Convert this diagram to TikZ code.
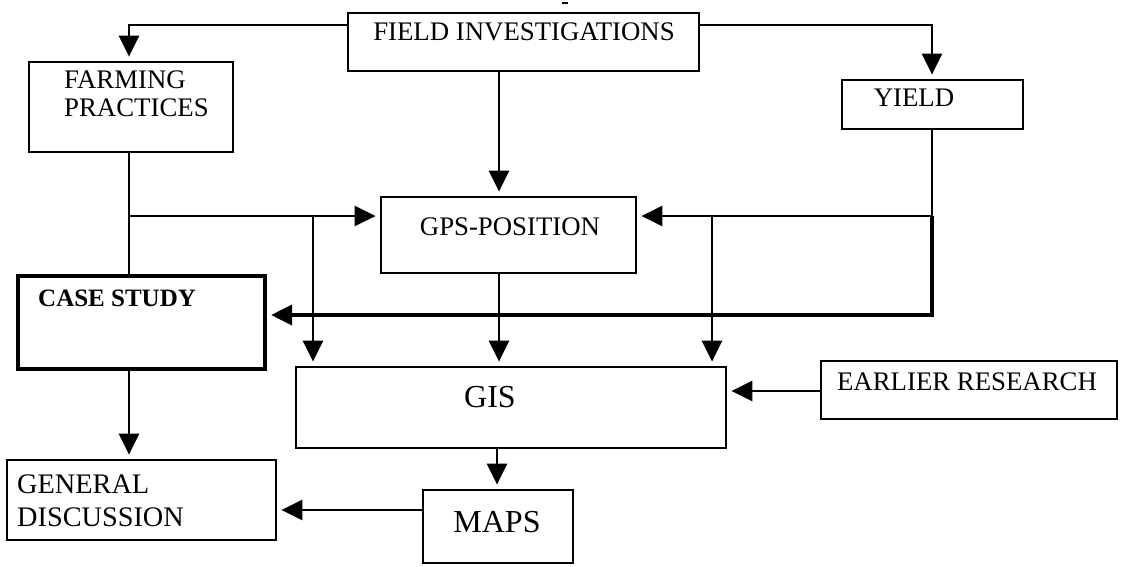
\documentclass[tikz,border=0pt]{standalone}
\usepackage{fontspec}
\setmainfont{Liberation Serif}
\usetikzlibrary{arrows.meta}
\tikzset{
  box/.style={draw, line width=2.8pt, inner sep=0pt, rectangle},
  thickbox/.style={draw, line width=4.2pt, inner sep=0pt, rectangle},
  txt/.style={inner sep=0pt, font=\fontsize{26.8}{28}\selectfont},
  bigtxt/.style={inner sep=0pt, font=\fontsize{32}{34}\selectfont},
  gdtxt/.style={inner sep=0pt, font=\fontsize{28.3}{30}\selectfont},
  cstxt/.style={inner sep=0pt, font=\fontsize{25}{27}\selectfont\bfseries},
  ln/.style={line width=2.6pt},
  arr/.style={line width=2.6pt, -{Triangle[length=21pt,width=20pt]}, shorten >=4pt},
  thickarr/.style={line width=3.8pt, -{Triangle[length=21pt,width=20pt]}, shorten >=4pt}
}
\begin{document}
\begin{tikzpicture}[x=1pt,y=-1pt]
\useasboundingbox (0,0) rectangle (1121,566);
% boxes
\node[box, minimum width=351pt, minimum height=58pt] (fi) at (523.5,42) {};
\node[box, minimum width=204pt, minimum height=90pt] (fp) at (131,107) {};
\node[box, minimum width=181pt, minimum height=49pt] (yi) at (932.5,104.5) {};
\node[box, minimum width=255pt, minimum height=76pt] (gps) at (508.5,235) {};
\node[thickbox, minimum width=247pt, minimum height=93pt] (cs) at (141.5,322.5) {};
\node[box, minimum width=430pt, minimum height=81pt] (gis) at (511,407.5) {};
\node[box, minimum width=296pt, minimum height=58pt] (er) at (969,390) {};
\node[box, minimum width=269pt, minimum height=80pt] (gd) at (141.5,500) {};
\node[box, minimum width=150pt, minimum height=73pt] (maps) at (498,526.5) {};
% texts
\node[txt, anchor=base] (fiT) at (524,40.9) {FIELD INVESTIGATIONS};
\node[txt, anchor=base west] (fpT1) at (64,88.9) {FARMING};
\node[txt, anchor=base west] (fpT2) at (64,116.9) {PRACTICES};
\node[txt, anchor=base] (yiT) at (914,106.9) {YIELD};
\node[txt, anchor=base] (gpsT) at (510,235.9) {GPS-POSITION};
\node[cstxt, anchor=base west] (csT) at (38,306.3) {CASE STUDY};
\node[bigtxt, anchor=base] (gisT) at (490,407.6) {GIS};
\node[txt, anchor=base] (erT) at (967,390.9) {EARLIER RESEARCH};
\node[gdtxt, anchor=base west] (gdT1) at (17,493.4) {GENERAL};
\node[gdtxt, anchor=base west] (gdT2) at (17,526.4) {DISCUSSION};
\node[bigtxt, anchor=base] (mapsT) at (497,532.6) {MAPS};
% junction coordinates
\coordinate (fl) at (129,25);
\coordinate (fr) at (932,25);
\coordinate (xm) at (499,0);
\coordinate (xb) at (497,0);
\coordinate (jl) at (129,216);
\coordinate (jl2) at (313,216);
\coordinate (jr) at (932,216);
\coordinate (jr2) at (712,216);
\coordinate (jc) at (932,315);
\coordinate (ey) at (0,391);
\coordinate (my) at (0,510);
% connectors
\draw[arr] (fi.west |- fl) -- (fl) -- (fl |- fp.north);
\draw[arr] (fi.east |- fr) -- (fr) -- (fr |- yi.north);
\draw[arr] (fi.south -| xm) -- (gps.north -| xm);
\draw[ln] (fp.south -| jl) -- (jl |- cs.north);
\draw[arr] (jl) -- (jl -| gps.west);
\draw[arr] (jl2) -- (jl2 |- gis.north);
\draw[ln] (yi.south -| jr) -- (jr);
\draw[arr] (jr) -- (jr -| gps.east);
\draw[arr] (jr2) -- (jr2 |- gis.north);
\draw[thickarr] (jr) -- (jc) -- (jc -| cs.east);
\draw[arr] (gps.south -| xm) -- (gis.north -| xm);
\draw[arr] (er.west |- ey) -- (gis.east |- ey);
\draw[arr] (cs.south -| jl) -- (gd.north -| jl);
\draw[arr] (gis.south -| xb) -- (maps.north -| xb);
\draw[arr] (maps.west |- my) -- (gd.east |- my);
% small mark above the top box
\draw[line width=1.5pt] (562,3) -- (568,3);
\end{tikzpicture}
\end{document}
